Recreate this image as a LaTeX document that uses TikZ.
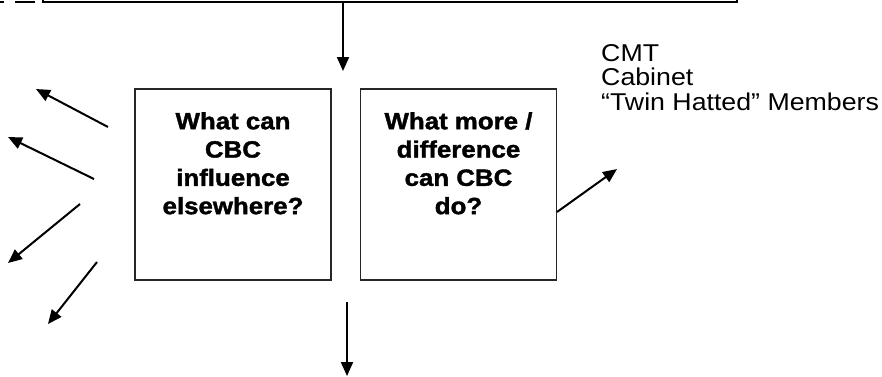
\documentclass[tikz,border=0pt]{standalone}
\usepackage{fontspec}
\setmainfont{Liberation Sans}[FakeStretch=1.1, BoldFeatures={FakeBold=1.6}]
\usetikzlibrary{arrows.meta}
\begin{document}
\begin{tikzpicture}[x=1pt,y=-1pt,
  qbox/.style={draw=black!85, line width=1.1pt, minimum width=196pt, minimum height=191pt, inner sep=0pt},
  qtext/.style={align=center, inner sep=0pt, anchor=north, font=\fontsize{23.5pt}{28.3pt}\selectfont\bfseries},
  rtext/.style={align=left, inner sep=0pt, anchor=north west, font=\fontsize{24.3pt}{24.5pt}\selectfont},
  arr/.style={line width=2pt, -{Triangle[length=14pt,width=12pt]}}]
\useasboundingbox (0,0) rectangle (882,376);
% top box (mostly outside the frame)
\node[draw, line width=1.8pt, minimum width=694pt, minimum height=102pt, inner sep=0pt] (topbox) at (390,-49) {};
\coordinate (dashR) at (35,2);
\coordinate (dashL) at (-11,2);
\draw[line width=1.8pt, dash pattern=on 20pt off 11pt] (dashR) -- (dashL);
% question boxes
\node[qbox] (q1) at (233,184.5) {};
\node[qbox] (q2) at (458.5,184.5) {};
\node[qtext] (t1) at (233,112) {What can\\CBC\\influence\\elsewhere?};
\node[qtext] (t2) at (458.5,112) {What more /\\difference\\can CBC\\do?};
\node[rtext] (rt) at (601,44) {CMT\\Cabinet\\“Twin Hatted” Members};
% arrows
\coordinate (topS) at (343,2);
\coordinate (topE) at (343,71);
\draw[arr] (topS) -- (topE);
\coordinate (botS) at (347,302);
\coordinate (botE) at (347,376);
\draw[arr] (botS) -- (botE);
\coordinate (l1s) at (108,127); \coordinate (l1e) at (36,89);
\coordinate (l2s) at (94,179);  \coordinate (l2e) at (8,137);
\coordinate (l3s) at (80,204);  \coordinate (l3e) at (8,263);
\coordinate (l4s) at (97,262);  \coordinate (l4e) at (48,324);
\draw[arr] (l1s) -- (l1e);
\draw[arr] (l2s) -- (l2e);
\draw[arr] (l3s) -- (l3e);
\draw[arr] (l4s) -- (l4e);
\coordinate (r0) at (557,212);
\coordinate (r1) at (617,169);
\draw[arr] (r0) -- (r1);
\end{tikzpicture}
\end{document}
